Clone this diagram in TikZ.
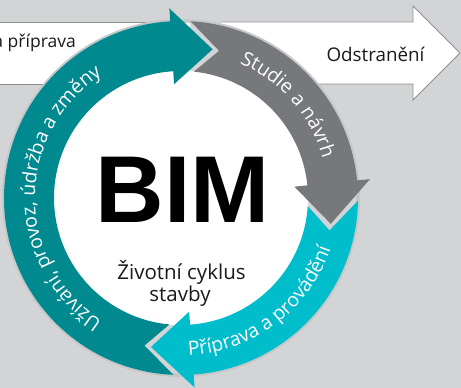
\documentclass[tikz,border=0pt]{standalone}
\usepackage{fontspec}
\setmainfont{Open Sans}
\newfontfamily\bimfont{Liberation Sans}
\usetikzlibrary{decorations.text}
\definecolor{bg}{HTML}{D3D4D6}
\definecolor{halo}{HTML}{C6C7C9}
\definecolor{tealc}{HTML}{008A8F}
\definecolor{grayc}{HTML}{77787B}
\definecolor{cyanc}{HTML}{00BDCC}
\definecolor{edgec}{HTML}{8E8F92}
\definecolor{inkc}{HTML}{1A1A1A}
\newcommand\ringarrow[3]{%
  \fill[#1] (#2:152) -- ({#2+11.43}:177)
    arc[start angle={#2+11.43}, end angle={#3+15.5}, radius=177]
    -- ({#3+15.5}:190) -- (#3:152) -- ({#3+15.5}:114) -- ({#3+15.5}:127)
    arc[start angle={#3+15.5}, end angle={#2+8.66}, radius=127] -- cycle;}
\tikzset{
  whitearrow/.style={fill=white},
  arrowedge/.style={draw=edgec, line width=0.8pt},
  arctext/.style={decorate, decoration={text along path, text align=center,
     text={|\color{white}\fontsize{19.5}{20}\selectfont|#1}}},
  blacktext/.style={text=inkc, inner sep=0pt, font=\fontsize{#1}{#1}\selectfont}
}
\begin{document}
\begin{tikzpicture}[x=1pt,y=1pt]
\useasboundingbox (0,0) rectangle (461,388);
\fill[bg] (0,0) rectangle (461,388);
% background white arrows
\fill[whitearrow] (-10,304) rectangle (190,366);
\draw[arrowedge] (-10,366) -- (190,366) (-10,304) -- (190,304);
\fill[whitearrow] (221,304) -- (221,366) -- (413,366) -- (413,382) -- (460,335) -- (413,288) -- (413,304) -- cycle;
\draw[arrowedge] (221,366) -- (413,366) -- (413,382) -- (460,335) -- (413,288) -- (413,304) -- (221,304);
\node[blacktext=17.5, anchor=base east] (plan) at (76,340) {a příprava};
\node[blacktext=18.8, anchor=base] (odst) at (375.5,326) {Odstranění};
\begin{scope}[shift={(181,190)}]
  \fill[white] (0,0) circle (127.5);
  \draw[halo, line width=4pt] (0,0) circle (177);
  \ringarrow{tealc}{256.1}{78}
  \ringarrow{grayc}{75.5}{-9.8}
  \ringarrow{cyanc}{-12.3}{-101.4}
  \path[arctext={Užívání, provoz, údržba a změny}] (262:146) arc[start angle=262, end angle=98, radius=146];
  \path[arctext={Studie a návrh}] (100:147) arc[start angle=100, end angle=-18, radius=147];
  \path[arctext={Příprava a provádění}] (247:158) arc[start angle=247, end angle=367, radius=158];
\end{scope}
\node[text=black, inner sep=0pt, anchor=base, font=\bimfont\bfseries\fontsize{95}{95}\selectfont] (bim) at (182.5,165) {BIM};
\node[blacktext=20.5, anchor=base] (life) at (181.5,108) {Životní cyklus};
\node[blacktext=20.5, anchor=base] (stavby) at (180,86) {stavby};
\end{tikzpicture}
\end{document}
